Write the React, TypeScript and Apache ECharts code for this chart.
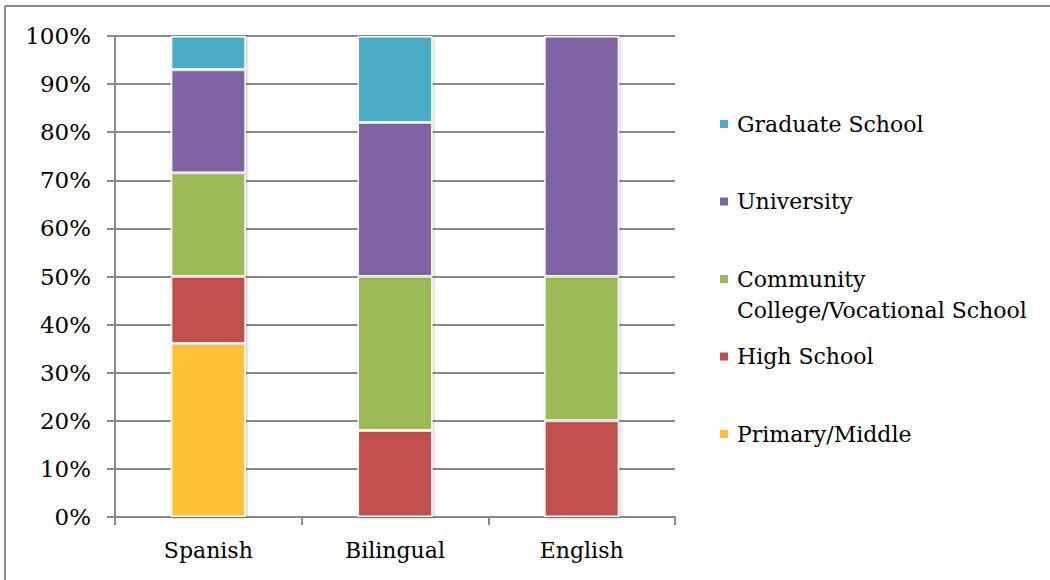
import React, { useEffect, useRef } from "react";
import * as echarts from "echarts";

const categories = ["Spanish", "Bilingual", "English"];
const primaryMiddle = [36, 0, 0];
const highSchool = [14, 18, 20];
const community = [21.5, 32, 30];
const university = [21.5, 32, 50];
const graduate = [7, 18, 0];
const yTicks = [0, 100, 10];

const seriesDefs = [
  { name: "Primary/Middle", data: primaryMiddle, color: "#FFC134" },
  { name: "High School", data: highSchool, color: "#C0504D" },
  { name: "Community", data: community, color: "#9BBB59" },
  { name: "University", data: university, color: "#8064A2" },
  { name: "Graduate School", data: graduate, color: "#4BACC6" },
];
const legendOrder = ["Graduate School", "University", "Community", "High School", "Primary/Middle"];

const FONT = "DejaVu Serif";

export default function App() {
  const ref = useRef<HTMLDivElement>(null);
  useEffect(() => {
    document.body.style.margin = "0";
    const chart = echarts.init(ref.current!, null, { renderer: "svg" });
    chart.setOption({
      animation: false,
      backgroundColor: "#ffffff",
      textStyle: { fontFamily: FONT },
      grid: { left: 115, top: 36, width: 560, height: 481 },
      xAxis: {
        type: "category",
        data: categories,
        axisLine: { lineStyle: { color: "#8a8a8a", width: 2 } },
        axisTick: { show: true, length: 8, lineStyle: { color: "#8a8a8a", width: 2 } },
        axisLabel: { color: "#000", fontSize: 22, fontFamily: FONT, margin: 22 },
      },
      yAxis: {
        type: "value",
        min: yTicks[0],
        max: yTicks[1],
        interval: yTicks[2],
        axisLine: { show: true, lineStyle: { color: "#8a8a8a", width: 2 } },
        axisTick: { show: true, length: 8, lineStyle: { color: "#8a8a8a", width: 2 } },
        splitLine: { lineStyle: { color: "#8a8a8a", width: 2 } },
        axisLabel: { color: "#000", fontSize: 23, fontFamily: FONT, margin: 24, formatter: "{value}%" },
      },
      legend: {
        orient: "vertical",
        left: 713,
        top: 106,
        itemWidth: 10,
        itemHeight: 10,
        itemGap: 51.5,
        icon: "rect",
        data: legendOrder,
        textStyle: { color: "#000", fontSize: 22, fontFamily: FONT, lineHeight: 26, padding: [0, 0, 0, 3] },
      },
      graphic: [
        { type: "line", shape: { x1: 5, y1: 6, x2: 1100, y2: 6 }, style: { stroke: "#8a8a8a", lineWidth: 2 } },
        { type: "line", shape: { x1: 5, y1: 6, x2: 5, y2: 700 }, style: { stroke: "#8a8a8a", lineWidth: 2 } },
        {
          type: "text",
          left: 737,
          top: 299,
          style: { text: "College/Vocational School", fill: "#000", font: `22px "${FONT}"` },
        },
      ],
      series: seriesDefs.map((s) => ({
        name: s.name,
        type: "bar",
        stack: "total",
        barWidth: 75,
        data: s.data.map((v) => (v === 0 ? "-" : v)),
        itemStyle: {
          color: s.color,
          borderColor: "#ffffff",
          borderWidth: 1.5,
          shadowBlur: 3,
          shadowColor: "rgba(0,0,0,0.25)",
          shadowOffsetX: 1,
          shadowOffsetY: 1,
        },
      })),
    });
    return () => chart.dispose();
  }, []);
  return <div ref={ref} style={{ width: 1050, height: 580 }} />;
}
